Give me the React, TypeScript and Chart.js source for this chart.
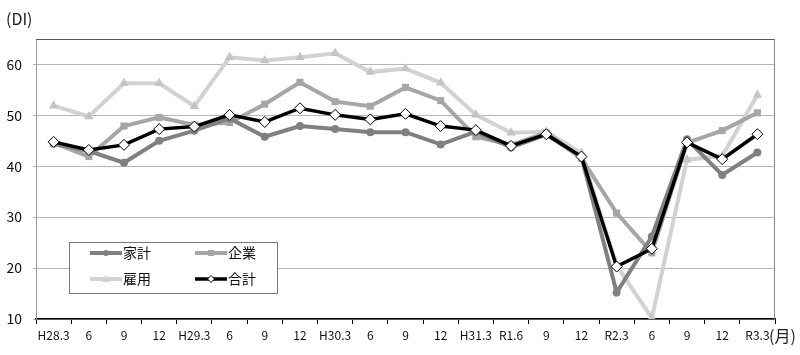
import React, { useEffect, useRef } from "react";
import { Chart, registerables } from "chart.js";

Chart.register(...registerables);

const categories = ["H28.3", "6", "9", "12", "H29.3", "6", "9", "12", "H30.3", "6", "9", "12", "H31.3", "R1.6", "9", "12", "R2.3", "6", "9", "12", "R3.3"];
const household = [44.4, 43.0, 40.7, 45.0, 47.0, 49.4, 45.8, 47.9, 47.3, 46.7, 46.7, 44.3, 46.8, 43.7, 46.2, 41.8, 15.2, 26.2, 45.3, 38.3, 42.7];
const business = [44.6, 41.9, 47.9, 49.6, 48.1, 48.6, 52.2, 56.5, 52.7, 51.8, 55.5, 52.9, 45.8, 44.2, 46.6, 41.6, 30.8, 23.0, 44.6, 47.0, 50.5];
const employment = [51.9, 49.8, 56.3, 56.3, 51.8, 61.4, 60.8, 61.4, 62.2, 58.5, 59.2, 56.4, 50.1, 46.6, 46.8, 42.6, 20.5, 10.2, 41.3, 42.0, 54.0];
const total = [44.8, 43.2, 44.2, 47.3, 47.8, 50.1, 48.7, 51.4, 50.1, 49.2, 50.3, 47.9, 47.1, 44.0, 46.3, 41.9, 20.3, 23.8, 44.7, 41.4, 46.3];
const seriesNames = ["家計", "企業", "雇用", "合計"];
const yTicks = [10, 20, 30, 40, 50, 60];

const FONT = '"Noto Sans CJK JP", "Noto Sans", sans-serif';
const C_HH = "#808080";
const C_BIZ = "#a6a6a6";
const C_EMP = "#d2d2d2";
const C_TOT = "#000000";

const decorPlugin = {
  id: "decor",
  afterDraw(chart: any) {
    const { ctx, chartArea: a } = chart;
    ctx.save();
    // frame
    ctx.lineWidth = 1;
    ctx.strokeStyle = "#555555";
    ctx.beginPath();
    ctx.moveTo(a.left, a.top + 0.5);
    ctx.lineTo(a.right, a.top + 0.5);
    ctx.stroke();
    ctx.strokeStyle = "#8a8a8a";
    ctx.beginPath();
    ctx.moveTo(a.right - 0.5, a.top);
    ctx.lineTo(a.right - 0.5, a.bottom);
    ctx.stroke();

    // legend box
    const lx = a.left + 33;
    const ly = a.top + 203;
    const lw = 208;
    const lh = 51;
    ctx.fillStyle = "#ffffff";
    ctx.fillRect(lx, ly, lw, lh);
    ctx.strokeStyle = "#7a7a7a";
    ctx.strokeRect(lx + 0.5, ly + 0.5, lw, lh);

    const items = [
      { name: seriesNames[0], color: C_HH, shape: "circle", x: lx + 21, y: ly + 11 },
      { name: seriesNames[1], color: C_BIZ, shape: "rect", x: lx + 126, y: ly + 11 },
      { name: seriesNames[2], color: C_EMP, shape: "tri", x: lx + 21, y: ly + 37 },
      { name: seriesNames[3], color: C_TOT, shape: "diamond", x: lx + 126, y: ly + 37 },
    ];
    ctx.font = `14px ${FONT}`;
    ctx.textBaseline = "middle";
    ctx.textAlign = "left";
    for (const it of items) {
      ctx.strokeStyle = it.color;
      ctx.lineWidth = it.shape === "diamond" ? 3.5 : 4;
      ctx.beginPath();
      ctx.moveTo(it.x, it.y);
      ctx.lineTo(it.x + 32, it.y);
      ctx.stroke();
      const mx = it.x + 16;
      const my = it.y;
      ctx.fillStyle = it.color;
      ctx.beginPath();
      if (it.shape === "circle") {
        ctx.arc(mx, my, 3, 0, Math.PI * 2);
        ctx.fill();
      } else if (it.shape === "rect") {
        ctx.fillRect(mx - 3, my - 3, 6, 6);
      } else if (it.shape === "tri") {
        ctx.moveTo(mx, my - 4);
        ctx.lineTo(mx + 4, my + 3);
        ctx.lineTo(mx - 4, my + 3);
        ctx.closePath();
        ctx.fill();
      } else {
        ctx.moveTo(mx, my - 3.5);
        ctx.lineTo(mx + 3.5, my);
        ctx.lineTo(mx, my + 3.5);
        ctx.lineTo(mx - 3.5, my);
        ctx.closePath();
        ctx.fillStyle = "#ffffff";
        ctx.fill();
        ctx.lineWidth = 1;
        ctx.strokeStyle = "#000";
        ctx.stroke();
      }
      ctx.fillStyle = "#111111";
      ctx.fillText(it.name, it.x + 33, it.y);
    }

    // unit labels
    ctx.fillStyle = "#222222";
    ctx.font = `16px ${FONT}`;
    ctx.textAlign = "left";
    ctx.textBaseline = "middle";
    ctx.fillText("(DI)", 6, 19);
    ctx.fillText("(月)", a.right - 6, 336);
    ctx.restore();
  },
};

export default function App() {
  const ref = useRef<HTMLCanvasElement | null>(null);
  useEffect(() => {
    document.body.style.margin = "0";
    if (!ref.current) return;
    const chart = new Chart(ref.current, {
      type: "line",
      data: {
        labels: categories,
        datasets: [
          {
            label: seriesNames[0],
            data: household,
            borderColor: C_HH,
            backgroundColor: C_HH,
            borderWidth: 4,
            pointStyle: "circle",
            pointRadius: 4,
            pointBorderWidth: 0,
            order: 1,
          },
          {
            label: seriesNames[1],
            data: business,
            borderColor: C_BIZ,
            backgroundColor: C_BIZ,
            borderWidth: 4,
            pointStyle: "rect",
            pointRadius: 5,
            pointBorderWidth: 0,
            order: 2,
          },
          {
            label: seriesNames[2],
            data: employment,
            borderColor: C_EMP,
            backgroundColor: "#c4c4c4",
            borderWidth: 4,
            pointStyle: "triangle",
            pointRadius: 5.5,
            pointBorderWidth: 0,
            order: 3,
          },
          {
            label: seriesNames[3],
            data: total,
            borderColor: C_TOT,
            backgroundColor: "#ffffff",
            pointBorderColor: "#000000",
            borderWidth: 3.5,
            pointStyle: "rectRot",
            pointRadius: 5.5,
            pointBorderWidth: 1,
            order: 0,
          },
        ],
      },
      options: {
        animation: false,
        responsive: false,
        layout: { padding: { left: 0, right: 25, top: 39, bottom: 0 } },
        plugins: { legend: { display: false }, tooltip: { enabled: false } },
        elements: { line: { tension: 0 } },
        scales: {
          x: {
            offset: true,
            grid: {
              offset: true,
              drawOnChartArea: false,
              drawTicks: true,
              tickLength: 5,
              color: "#000000",
            },
            border: { display: true, color: "#000000", width: 1.5 },
            ticks: {
              autoSkip: false,
              maxRotation: 0,
              padding: 4,
              color: "#111111",
              font: { family: FONT, size: 12 },
            },
            afterFit: (s: any) => {
              s.height = 36;
            },
          },
          y: {
            min: 10,
            max: 65,
            afterBuildTicks: (s: any) => {
              s.ticks = yTicks.map((v) => ({ value: v }));
            },
            grid: {
              color: "#b5b5b5",
              lineWidth: 1,
              tickLength: 3,
              drawTicks: true,
            },
            border: { display: true, color: "#999999", width: 1, dash: [] },
            ticks: {
              padding: 11,
              color: "#111111",
              font: { family: FONT, size: 14 },
            },
            afterFit: (s: any) => {
              s.width = 36;
            },
          },
        },
      },
      plugins: [decorPlugin],
    });
    return () => chart.destroy();
  }, []);
  return (
    <div style={{ width: 800, height: 355, background: "#fff" }}>
      <canvas ref={ref} width={800} height={355} />
    </div>
  );
}
